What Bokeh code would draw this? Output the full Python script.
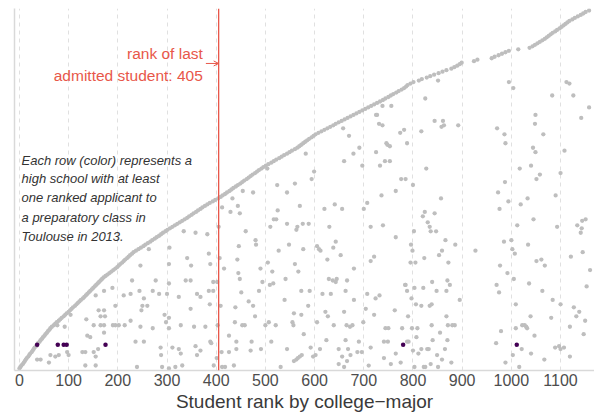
from bokeh.plotting import figure
from bokeh.models import FixedTicker, Span, Label, Arrow, OpenHead
from bokeh.embed import file_html
from bokeh.resources import INLINE

# ---------------- data ----------------
# rank of the first (best-ranked) applicant of each high school, one per row (row = index)
first_rank = [
    0, 2, 4, 7, 9, 11, 13, 15, 18, 20, 22, 25, 27, 29, 31, 34, 36,
    38, 41, 43, 46, 48, 51, 53, 56, 58, 61, 63,
    66, 70, 73, 76, 80, 83, 86, 90, 93, 96, 100,
    103, 106, 109, 113, 116, 119, 122, 125, 129, 132, 135, 138,
    141, 144, 147, 150, 153, 156, 159, 162, 165, 168, 171,
    175, 179, 183, 187, 191, 195, 199, 202,
    205, 209, 212, 215, 219, 222, 225, 229, 232,
    237, 242, 247, 252, 256, 261, 266,
    270, 275, 279, 284, 288, 292, 297, 301,
    306, 311, 316, 321, 326, 331, 336, 341,
    345, 350, 354, 359, 363, 368, 372, 377, 382,
    387, 393, 398, 404, 409,
    413, 418, 422, 427, 431, 435, 440, 444, 449, 453, 457, 462, 466, 470, 474, 479, 483, 487, 492, 496,
    501, 506, 512, 517, 522, 528, 533, 538, 544, 549, 554, 560, 565,
    569, 573, 577, 581, 585, 589, 594, 598, 602,
    608, 614, 620, 626, 632, 638, 643, 649,
    655, 661, 667, 673, 679, 685, 691, 697,
    703, 709, 715, 721, 727, 733, 739, 744, 750,
    755, 760, 766, 771, 777, 782, 786, 789, 795, 801, 812, 818, 828, 835, 843, 852, 860, 868,
    878, 884, 890, 895, 899, 924, 931, 960, 966, 974, 981, 988, 995, 1014, 1037, 1043, 1048,
    1053, 1058, 1063, 1068, 1072, 1076, 1080, 1084, 1089, 1093, 1098, 1102, 1106, 1110, 1114,
    1118, 1124, 1129, 1135, 1141, 1146, 1151, 1158,
]

# other applicants (rank, row) of the same high schools
others_upto_400 = [
    (334, 92), (358, 91), (382, 90), (305, 81), (263, 80), (385, 77), (246, 69), (304, 70),
    (341, 74), (349, 69), (388, 70), (229, 59), (277, 59), (304, 57), (338, 59), (348, 59),
    (189, 54), (172, 52), (155, 49), (212, 49), (226, 50), (244, 52), (253, 47), (271, 52),
    (284, 50), (300, 50), (324, 48), (361, 50), (368, 48), (385, 52), (161, 39), (172, 39),
    (165, 35), (174, 35), (195, 42), (250, 42), (248, 39), (260, 42), (295, 36), (304, 34),
    (348, 40), (387, 43), (104, 36), (136, 33), (151, 29), (165, 29), (172, 29), (190, 29),
    (195, 29), (202, 29), (214, 29), (226, 32), (246, 28), (271, 27), (298, 31), (304, 27),
    (328, 29), (355, 28), (378, 28), (77, 29), (92, 28), (138, 22), (144, 21), (151, 11),
    (160, 13), (36, 6), (43, 6), (63, 9), (73, 8), (80, 9), (60, 4), (97, 11), (100, 9),
    (128, 11), (134, 11), (155, 8), (172, 24), (236, 18), (253, 18), (287, 14), (311, 14),
    (324, 13), (328, 10), (358, 15), (361, 9), (368, 12), (388, 18), (288, 9), (134, 2),
    (155, 2), (239, 1), (290, 1), (304, 0), (317, 1), (331, 2), (395, 2), (394, 58),
    (394, 52), (390, 17),
]
others_400_to_800 = [
    (738, 176), (756, 176), (725, 170), (727, 170), (731, 164), (738, 163), (658, 161),
    (670, 156), (774, 158), (782, 160), (746, 151), (748, 150), (753, 149), (788, 151),
    (691, 148), (679, 144), (725, 145), (582, 144), (660, 139), (743, 139), (753, 139),
    (733, 136), (697, 136), (504, 134), (599, 132), (594, 127), (524, 123), (560, 124),
    (544, 118), (454, 119), (475, 118), (433, 114), (776, 127), (785, 127), (765, 119),
    (736, 116), (412, 108), (444, 109), (448, 104), (429, 105), (570, 109), (525, 106),
    (517, 100), (522, 100), (544, 97), (620, 107), (641, 110), (656, 107), (700, 107),
    (707, 111), (510, 95), (565, 95), (576, 97), (588, 97), (630, 95), (714, 95), (739, 96),
    (405, 95), (460, 92), (563, 93), (480, 86), (481, 83), (446, 82), (548, 83), (527, 79),
    (577, 80), (605, 82), (609, 80), (612, 79), (638, 81), (643, 85), (653, 76), (626, 73),
    (680, 67), (714, 72), (721, 75), (765, 88), (407, 74), (416, 67), (443, 73), (445, 64),
    (448, 60), (490, 67), (505, 71), (514, 65), (560, 70), (567, 65), (494, 58), (509, 56),
    (516, 57), (541, 60), (629, 60), (637, 59), (645, 60), (643, 58), (666, 59), (402, 58),
    (451, 51), (487, 52), (539, 46), (573, 52), (590, 52), (616, 50), (633, 50), (663, 52),
    (680, 46), (707, 50), (724, 47), (732, 49), (784, 56), (409, 42), (439, 41), (475, 42),
    (466, 45), (479, 35), (558, 37), (573, 36), (587, 42), (622, 38), (627, 35), (660, 38),
    (704, 40), (721, 36), (763, 39), (403, 29), (438, 31), (453, 29), (458, 29), (500, 29),
    (507, 31), (521, 29), (555, 31), (557, 29), (605, 31), (639, 29), (665, 29), (672, 28),
    (677, 29), (699, 31), (744, 27), (750, 27), (778, 27), (426, 22), (578, 23), (624, 19),
    (663, 19), (690, 18), (741, 18), (749, 18), (441, 18), (472, 18), (512, 18), (411, 11),
    (426, 11), (441, 13), (470, 12), (491, 13), (544, 13), (592, 14), (602, 9), (611, 13),
    (649, 13), (668, 13), (656, 8), (687, 11), (696, 11), (714, 14), (765, 10), (775, 4),
    (791, 18), (401, 7), (412, 1), (418, 1), (436, 2), (531, 1), (558, 5), (563, 6),
    (570, 8), (574, 9), (566, 7), (597, 8), (649, 3), (660, 1), (666, 5), (673, 9),
    (710, 2), (741, 7), (755, 3),
]
others_from_800 = [
    (851, 193), (825, 181), (995, 192), (1004, 188), (1112, 192), (1118, 191), (1083, 183),
    (1126, 183), (1158, 175), (1142, 168), (844, 166), (861, 166), (863, 163), (858, 162),
    (892, 163), (817, 159), (971, 161), (986, 157), (988, 151), (1049, 170), (1048, 164),
    (1065, 157), (1044, 148), (1049, 145), (1108, 146), (827, 134), (1017, 134), (1040, 136),
    (1058, 130), (1051, 127), (1100, 131), (987, 125), (800, 123), (857, 114), (973, 118),
    (994, 112), (976, 107), (1019, 110), (1033, 114), (1090, 116), (824, 105), (820, 102),
    (844, 104), (830, 98), (834, 95), (836, 92), (847, 92), (802, 92), (866, 86), (886, 83),
    (796, 83), (799, 79), (853, 76), (859, 79), (823, 74), (795, 71), (805, 71), (872, 71),
    (927, 79), (1012, 96), (1045, 100), (1093, 95), (985, 85), (1000, 86), (1002, 80),
    (1007, 77), (1034, 83), (1051, 72), (1061, 73), (1068, 69), (1134, 96), (1144, 99),
    (1151, 100), (1143, 94), (1141, 91), (1145, 78), (1121, 75), (1160, 66), (1153, 55),
    (977, 69), (992, 64), (1005, 60), (970, 56), (975, 51), (1036, 57), (1063, 52),
    (1084, 46), (1100, 43), (1127, 41), (1138, 38), (1132, 35), (1150, 32), (1119, 28),
    (1147, 23), (1009, 43), (1039, 35), (1081, 34), (1022, 29), (1027, 29), (1030, 28),
    (1032, 27), (1009, 27), (979, 25), (1047, 22), (969, 17), (1021, 13), (1040, 10),
    (1003, 9), (988, 4), (1016, 1), (1067, 6), (1089, 14), (1097, 15), (1100, 13),
    (1107, 14), (1119, 8), (785, 56), (788, 52), (803, 54), (821, 54), (839, 58), (848, 52),
    (868, 52), (870, 59), (875, 56), (895, 46), (797, 47), (806, 43), (817, 42), (834, 42),
    (838, 43), (790, 35), (868, 35), (798, 27), (809, 27), (838, 29), (871, 29), (880, 29),
    (885, 29), (807, 21), (855, 24), (788, 18), (840, 19), (870, 19), (800, 12), (811, 10),
    (817, 13), (829, 13), (832, 13), (865, 13), (849, 9), (859, 6), (803, 1), (822, 1),
    (825, 1), (836, 3), (851, 1), (878, 4),
]

# the highlighted high school (one row, coloured)
highlight_row = 16
highlight_rank = [36, 78, 90, 96, 175, 780, 1011]

x_ticks = [0, 100, 200, 300, 400, 500, 600, 700, 800, 900, 1000, 1100]
last_admitted = 405

note_lines = [
    "Each row (color) represents a",
    "high school with at least",
    "one ranked applicant to",
    "a preparatory class in",
    "Toulouse in 2013.",
]

# ---------------- plot ----------------
GRAY = "#BEBEBE"
PURPLE = "#440154"
RED = "#E8574A"
FONT = "Liberation Sans"

n_rows = len(first_rank)
p = figure(
    width=594, height=416,
    x_range=(-10, 1169), y_range=(-1.34, n_rows + 0.34),
    output_backend="svg", toolbar_location=None,
    min_border_left=14, min_border_right=0, min_border_top=8, min_border_bottom=46,
)
p.outline_line_color = None
p.background_fill_color = "white"
p.border_fill_color = "white"

# axes
p.xaxis.ticker = FixedTicker(ticks=x_ticks)
p.xaxis.major_tick_out = 0
p.xaxis.major_tick_in = 0
p.xaxis.minor_tick_out = 0
p.xaxis.minor_tick_in = 0
p.xaxis.axis_line_color = "#D9D9D9"
p.xaxis.axis_line_width = 1.5
p.xaxis.major_label_text_font = FONT
p.xaxis.major_label_text_font_size = "16px"
p.xaxis.major_label_text_color = "#4D4D4D"
p.xaxis.major_label_standoff = 3
p.xaxis.axis_label = "Student rank by college\u2212major"
p.xaxis.axis_label_text_font = FONT
p.xaxis.axis_label_text_font_size = "19px"
p.xaxis.axis_label_text_font_style = "normal"
p.xaxis.axis_label_text_color = "#3A3A3A"
p.xaxis.axis_label_standoff = 2

p.yaxis.ticker = FixedTicker(ticks=[])
p.yaxis.major_tick_out = 0
p.yaxis.major_tick_in = 0
p.yaxis.minor_tick_out = 0
p.yaxis.minor_tick_in = 0
p.yaxis.major_label_text_font_size = "0px"
p.yaxis.axis_line_color = "#D9D9D9"
p.yaxis.axis_line_width = 1.5

p.xgrid.ticker = FixedTicker(ticks=x_ticks)
p.xgrid.grid_line_color = "#E0E0E0"
p.xgrid.grid_line_dash = "4 4"
p.xgrid.grid_line_width = 1
p.ygrid.visible = False

# points
others = others_upto_400 + others_400_to_800 + others_from_800
p.scatter([r for r, _ in others], [k for _, k in others], size=4.3,
          fill_color=GRAY, line_color=None)
p.scatter(first_rank, list(range(n_rows)), size=4.3, fill_color=GRAY, line_color=None)
p.scatter(highlight_rank, [highlight_row] * len(highlight_rank), size=4.5,
          fill_color=PURPLE, line_color=None)

# cut-off line
p.add_layout(Span(location=last_admitted, dimension="height", line_color=RED, line_width=1.3))
p.add_layout(Label(x=372.8, y=211.0, text="rank of last", text_align="right",
                   text_baseline="middle", text_color=RED, text_font=FONT,
                   text_font_size="15.5px"))
p.add_layout(Label(x=372.8, y=196.4, text=f"admitted student: {last_admitted}",
                   text_align="right", text_baseline="middle", text_color=RED,
                   text_font=FONT, text_font_size="15.5px"))
p.add_layout(Arrow(x_start=379, y_start=204.5, x_end=last_admitted, y_end=204.5,
                   line_color=RED, line_width=1,
                   end=OpenHead(size=5, line_color=RED, line_width=1)))

# explanatory note
note_y = [139.4, 127.2, 114.4, 101.4, 88.7]
for line, yy in zip(note_lines, note_y):
    p.add_layout(Label(x=4.3, y=yy, text=line, text_align="left", text_baseline="middle",
                       text_color="#333333", text_font=FONT, text_font_size="13px",
                       text_font_style="italic"))

open("out.html", "w").write(file_html(p, INLINE))
